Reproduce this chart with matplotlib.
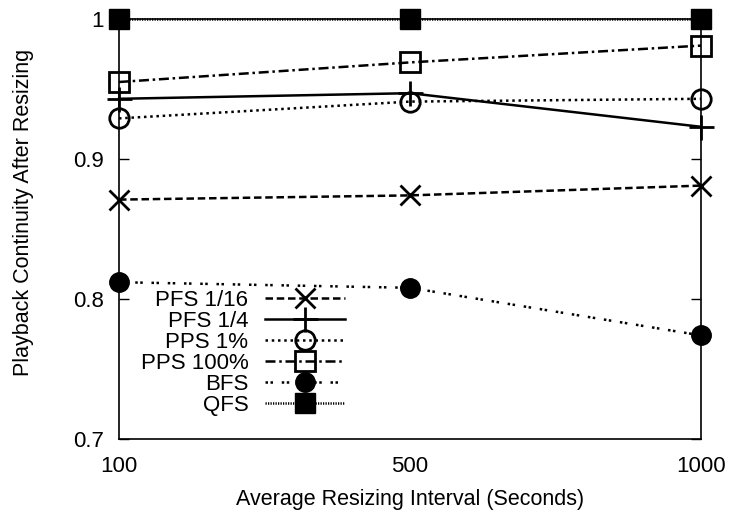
import numpy as np
import matplotlib
matplotlib.use("Agg")
import matplotlib.pyplot as plt

plt.rcParams['font.family'] = ['Liberation Sans', 'DejaVu Sans']

intervals = ['100', '500', '1000']
pfs_16 = [0.871, 0.874, 0.881]
pfs_4 = [0.943, 0.947, 0.923]
pps_1 = [0.929, 0.941, 0.943]
pps_100 = [0.955, 0.969, 0.981]
bfs = [0.812, 0.808, 0.774]
qfs = [1.0, 1.0, 1.0]

x = np.arange(len(intervals))

fig = plt.figure(figsize=(7.33, 5.16), dpi=100)
ax = fig.add_axes([119/733, 77/516, 582/733, 420/516])

lw = 1.8
ms = 14
ax.plot(x, pfs_16, color='black', lw=lw, ls=(0, (3, 1.5)), marker='x', ms=ms, mew=2,
        label='PFS 1/16')
ax.plot(x, pfs_4, color='black', lw=lw, ls='-', marker='+', ms=ms + 4, mew=2,
        label='PFS 1/4')
ax.plot(x, pps_1, color='black', lw=lw, ls=(0, (1, 1.5)), marker='o', ms=ms,
        mfc='none', mew=2, label='PPS 1%')
ax.plot(x, pps_100, color='black', lw=lw, ls=(0, (4, 1.5, 1, 1.5)), marker='s', ms=ms,
        mfc='none', mew=2, label='PPS 100%')
ax.plot(x, bfs, color='black', lw=lw, ls=(0, (1, 1, 1, 3.5)), marker='o', ms=ms,
        label='BFS')
ax.plot(x, qfs, color='black', lw=lw, ls=(0, (0.5, 0.5)), marker='s', ms=ms,
        label='QFS')

ax.set_xlim(0, 2)
ax.set_ylim(0.7, 1.0)
ax.set_xticks(x)
ax.set_xticklabels(intervals)
ax.set_yticks([0.7, 0.8, 0.9, 1.0])
ax.set_yticklabels(['0.7', '0.8', '0.9', '1'])
ax.tick_params(axis='y', direction='in', length=7, right=True, labelsize=16, width=1, pad=11)
ax.tick_params(axis='x', length=0, labelsize=16, pad=12)
for s in ax.spines.values():
    s.set_linewidth(1.2)

ax.set_xlabel('Average Resizing Interval (Seconds)', fontsize=15.5, labelpad=9)
ax.set_ylabel('Playback Continuity After Resizing', fontsize=15.5)
ax.yaxis.set_label_coords(-0.146, 0.54)

for line in ax.lines:
    line.set_clip_on(False)

leg = ax.legend(loc='lower left', bbox_to_anchor=(0.037, 0.055), frameon=False,
                markerfirst=False, fontsize=16, handlelength=3.6, handletextpad=0.75,
                labelspacing=0.0, borderpad=0, borderaxespad=0)

plt.savefig('out.png', dpi=100)
